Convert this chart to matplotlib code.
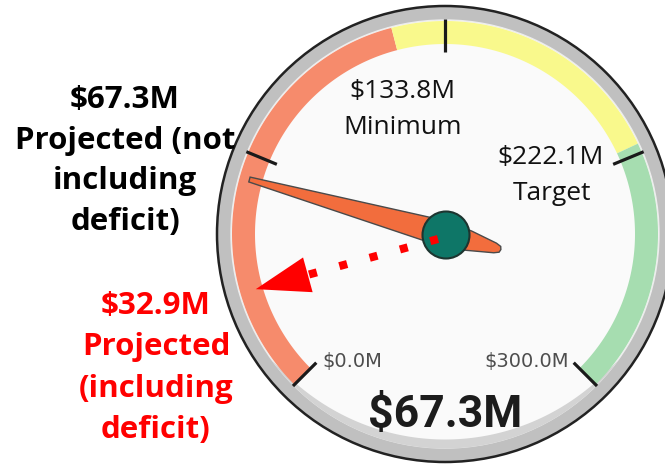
import numpy as np
import matplotlib
matplotlib.use('Agg')
import matplotlib.pyplot as plt
from matplotlib.patches import Polygon, Circle

# ---- data ----
gauge_min, gauge_max = 0.0, 300.0
band_edges = [0.0, 133.8, 222.1, 300.0]
band_colors = ['#F68B6C', '#F9F98C', '#A6DDB0']
tick_values = [0, 75, 150, 225, 300]
needle_value = 67.3
deficit_value = 32.9
marker_values = [133.8, 222.1]
marker_names = ['Minimum', 'Target']
left_label = 'Projected (not\nincluding\ndeficit)'
red_label = 'Projected\n(including\ndeficit)'

# ---- layout ----
W, H = 665, 467
fig = plt.figure(figsize=(W / 100, H / 100), dpi=100)
ax = fig.add_axes([0, 0, 1, 1])
ax.set_xlim(0, W)
ax.set_ylim(H, 0)
ax.set_aspect('equal')
ax.axis('off')

cx, cy = 445, 234


def ang(v):
    return np.deg2rad(225 - 270 * (v - gauge_min) / (gauge_max - gauge_min))


def pt(r, a):
    return cx + r * np.cos(a), cy - r * np.sin(a)


def sector(v0, v1, r_in, r_out, **kw):
    a = np.linspace(ang(v0), ang(v1), 160)
    xo, yo = pt(r_out, a)
    xi, yi = pt(r_in, a[::-1])
    return Polygon(np.column_stack([np.r_[xo, xi], np.r_[yo, yi]]), **kw)


# dial body
ax.add_patch(Circle((cx, cy), 228, fc='#C0C0C0', ec='#222222', lw=1.8, zorder=1))
ax.add_patch(Circle((cx, cy), 214, fc='#FAFAFA', ec='#EDEDED', lw=1.0, zorder=2))
# lighter grey inner rim along the open bottom of the dial (tapered)
ab = np.linspace(ang(gauge_max) + 0.15, ang(gauge_max) - np.pi / 2 - 0.15, 200)
tt = np.linspace(0, 1, ab.size)
r_in = 214.5 - 9 * np.sin(np.pi * tt) ** 0.7
xo, yo = pt(214.5, ab)
xi, yi = pt(r_in[::-1], ab[::-1])
ax.add_patch(Polygon(np.column_stack([np.r_[xo, xi], np.r_[yo, yi]]),
                     fc='#D3D3D3', ec='none', zorder=2.5))

# colour bands
for v0, v1, col in zip(band_edges[:-1], band_edges[1:], band_colors):
    ax.add_patch(sector(v0, v1, 190, 213, fc=col, ec='none', zorder=3))

# ticks
for v in tick_values:
    a = ang(v)
    x0, y0 = pt(182, a)
    x1, y1 = pt(215, a)
    ax.plot([x0, x1], [y0, y1], color='#1a1a1a', lw=2.3, zorder=4,
            solid_capstyle='butt')

# range labels
ax.text(352, 361, f'${gauge_min:.1f}M', ha='center', va='center',
        fontsize=14, family='DejaVu Sans', color='#4d4d4d', zorder=5)
ax.text(527, 361, f'${gauge_max:.1f}M', ha='center', va='center',
        fontsize=14, family='DejaVu Sans', color='#4d4d4d', zorder=5)

# marker labels
marker_pos = [(402, 92, 128), (551, 158, 194)]
for v, name, (tx, y1, y2) in zip(marker_values, marker_names, marker_pos):
    ax.text(tx, y1, f'${v:.1f}M', ha='center', va='center', fontsize=19,
            family='Open Sans', color='#111111', zorder=5)
    ax.text(tx + 1, y2, name, ha='center', va='center', fontsize=19,
            family='Open Sans', color='#111111', zorder=5)

# needle
a = ang(needle_value)
d = np.array([np.cos(a), -np.sin(a)])
p = np.array([np.sin(a), np.cos(a)])
local = [(203, 2.5), (0, 13), (-25, 10), (-52, 5), (-57, 3), (-58, 0),
         (-57, -3), (-52, -5), (-25, -10), (0, -13), (203, -2.5)]
pts = [(cx + s * d[0] + t * p[0], cy + s * d[1] + t * p[1]) for s, t in local]
ax.add_patch(Polygon(pts, fc='#F26D3D', ec='#4a4a4a', lw=1.0, zorder=6))

# hub
ax.add_patch(Circle((cx + 1, cy + 1), 23.5, fc='#0E7667', ec='#1d3530',
                    lw=1.5, zorder=7))

# deficit arrow
a2 = ang(deficit_value)
sx, sy = cx - 7, cy + 5
ex, ey = sx + 135 * np.cos(a2), sy - 135 * np.sin(a2)
ax.plot([sx, ex], [sy, ey], color='#FF0000', lw=5.8,
        linestyle=(0, (1, 2.9)), dash_capstyle='butt', zorder=8)
d2 = np.array([np.cos(a2), -np.sin(a2)])
p2 = np.array([np.sin(a2), np.cos(a2)])
base = np.array([ex, ey])
tip = base + 54 * d2
head = [tip, base + 18 * p2, base - 18 * p2]
ax.add_patch(Polygon(head, fc='#FF0000', ec='none', zorder=8))

# big value
ax.text(445, 415, f'${needle_value:.1f}M', ha='center', va='center',
        fontsize=32, family='Roboto', fontweight='bold', color='#1c1c1c',
        zorder=5)

# side annotations
ax.text(125, 161, f'${needle_value:.1f}M\n' + left_label, ha='center',
        va='center', multialignment='center', fontsize=22.5,
        family='Open Sans', fontweight='bold', color='#000000',
        linespacing=1.46, zorder=9)
ax.text(156, 368, f'${deficit_value:.1f}M\n' + red_label, ha='center',
        va='center', multialignment='center', fontsize=22.5,
        family='Open Sans', fontweight='bold', color='#FF0000',
        linespacing=1.5, zorder=9)

fig.savefig('out.png', dpi=100, facecolor='white')
